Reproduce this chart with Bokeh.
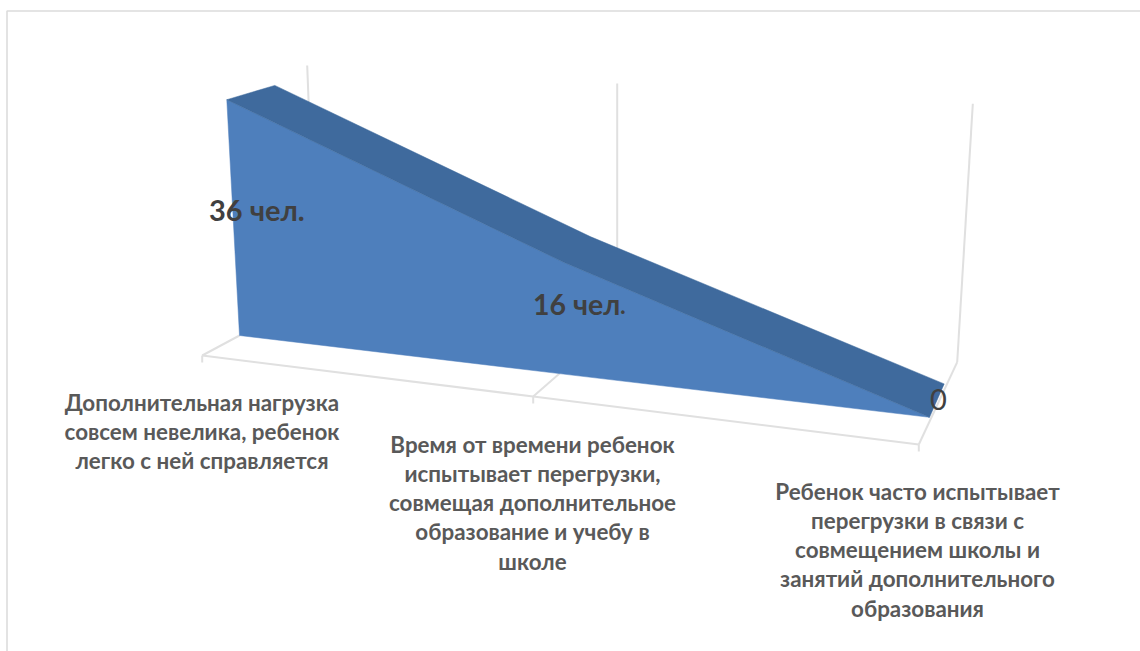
from bokeh.plotting import figure
from bokeh.models import Range1d, ColumnDataSource
from bokeh.core.properties import value
from bokeh.embed import file_html
from bokeh.resources import INLINE

# ---- data ----
categories = [
    "Дополнительная нагрузка\nсовсем невелика, ребенок\nлегко с ней справляется",
    "Время от времени ребенок\nиспытывает перегрузки,\nсовмещая дополнительное\nобразование и учебу в\nшколе",
    "Ребенок часто испытывает\nперегрузки в связи с\nсовмещением школы и\nзанятий дополнительного\nобразования",
]
people = [36, 16, 0]
value_labels = ["36 чел.", "16 чел", "0"]

# ---- projection of the 3-D box (screen pixels per category) ----
BASE = [(239.0, 335.0), (563.0, 373.6), (929.0, 416.8)]     # foot of front face
RISE = [(-0.353, -6.55), (0.0, -6.99), (0.0, -7.35)]        # per person
DEPTH = [(48.0, -14.3), (26.7, -25.7), (14.7, -33.4)]       # front -> back of ribbon
FLOOR_FRONT = [(201.7, 355.0), (532.7, 396.0), (918.3, 444.0)]
FLOOR_BACK = [(239.0, 335.0), (559.3, 372.7), (956.7, 361.7)]
WALL_FOOT = [(310.0, 150.0), (616.7, 300.0), (956.7, 361.7)]
WALL_TOP = [(306.7, 65.0), (616.7, 83.0), (972.3, 103.3)]
LABEL_CX = [201.5, 532.0, 917.0]
LABEL_Y0 = [401.5, 443.5, 490.5]
LABEL_LH = 29.3


def front(i, v):
    return BASE[i][0] + RISE[i][0] * v, BASE[i][1] + RISE[i][1] * v


def back(i, v):
    x, y = front(i, v)
    return x + DEPTH[i][0], y + DEPTH[i][1]


p = figure(width=1140, height=651, output_backend="svg", toolbar_location=None,
           x_range=Range1d(0, 1140), y_range=Range1d(651, 0), min_border=0,
           outline_line_color=None)
p.xaxis.visible = False
p.yaxis.visible = False
p.grid.visible = False

GRID = "#e0e0e0"
# chart frame
p.line([1140, 6.5, 6.5], [10.5, 10.5, 651], line_color="#dcdcdc", line_width=1.6)

# walls / floor
for i in range(3):
    fx, fy = FLOOR_FRONT[i]
    bx, by = FLOOR_BACK[i]
    p.line([fx, bx], [fy, by], line_color=GRID, line_width=2)
    p.line([fx, fx], [fy, fy + 7], line_color=GRID, line_width=2)
    p.line([WALL_FOOT[i][0], WALL_TOP[i][0]], [WALL_FOOT[i][1], WALL_TOP[i][1]],
           line_color=GRID, line_width=2)
p.line([c[0] for c in FLOOR_FRONT], [c[1] for c in FLOOR_FRONT], line_color=GRID, line_width=2)

# front face of area
n = range(len(people))
front_top = [front(i, people[i]) for i in n]
front_bot = [front(i, 0) for i in reversed(n)]
poly = front_top + front_bot
p.patch([c[0] for c in poly], [c[1] for c in poly], fill_color="#4e7fbc", line_color="#4e7fbc", line_width=0.5)

# upper ribbon of area
back_top = [back(i, people[i]) for i in reversed(n)]
poly = front_top + back_top
p.patch([c[0] for c in poly], [c[1] for c in poly], fill_color="#3f6a9d", line_color="#3f6a9d", line_width=0.5)

# category labels
FONT = value("Lato")
for i, cat in enumerate(categories):
    lines = cat.split("\n")
    ys = [LABEL_Y0[i] + k * LABEL_LH for k in range(len(lines))]
    src = ColumnDataSource(dict(x=[LABEL_CX[i]] * len(lines), y=ys, t=lines))
    p.text("x", "y", text="t", source=src, text_font=FONT, text_font_size="22.4px",
           text_font_style="bold", text_color="#595959", text_align="center",
           text_baseline="middle")

# value labels
p.text([208.5], [209], text=[value_labels[0]], text_font=FONT, text_font_size="29px",
       text_font_style="bold", text_color="#404040", text_align="left", text_baseline="middle")
p.text([532.5], [303], text=[value_labels[1]], text_font=FONT, text_font_size="28.5px",
       text_font_style="bold", text_color="#404040", text_align="left", text_baseline="middle")
p.text([619], [303], text=["."], text_font=FONT, text_font_size="28.5px",
       text_color="#404040", text_align="left", text_baseline="middle")
p.text([929.5], [399], text=[value_labels[2]], text_font=FONT, text_font_size="29px",
       text_color="#404040", text_align="left", text_baseline="middle")

open("out.html", "w").write(file_html(p, INLINE))
